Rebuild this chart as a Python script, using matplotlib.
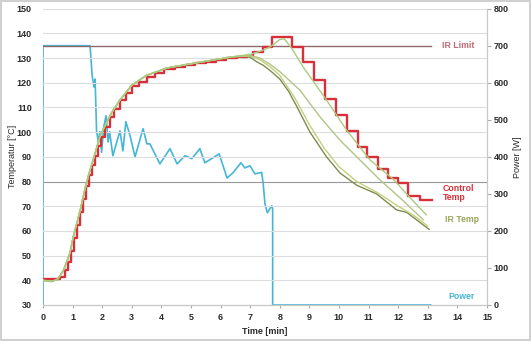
#!/usr/bin/env python3
"""Heat-up run: control temperature, IR sensor temperatures and heater power."""
import matplotlib
matplotlib.use("Agg")
import matplotlib.pyplot as plt

plt.rcParams["font.family"] = ["Liberation Sans", "DejaVu Sans"]

# limits / reference lines [degC]
ir_limit = 135
ir_limit_span = [0, 13.1]
target_line = 80

# controller set value (sampled, held between samples)
control_t = [0, 0.57, 0.74, 0.85, 0.95, 1.05, 1.15, 1.25, 1.35, 1.45, 1.55,
             1.65, 1.75, 1.85, 1.95, 2.1, 2.25, 2.4, 2.6, 2.8, 3.0, 3.25, 3.5,
             3.8, 4.1, 4.45, 4.8, 5.15, 5.5, 5.85, 6.2, 6.55, 6.9, 7.1,
             7.44, 7.73, 8.42, 8.79, 9.17, 9.53, 9.90, 10.28, 10.63, 10.96,
             11.31, 11.66, 12.0, 12.34, 12.74, 13.13]
control_T = [40.5, 41.5, 44, 47.5, 52, 57, 62.5, 67.5, 73, 78, 82.5,
             86.5, 90.5, 94.5, 98, 102, 106, 109.5, 113, 116, 118.5, 120.5,
             122.5, 124, 125.5, 126.5, 127.3, 128, 128.6, 129.3, 130, 130.5,
             131, 132.5, 134.5, 138.5, 134.5, 128.5, 121, 113.6, 106.9, 100.4,
             94.0, 90.0, 84.9, 81.3, 79.2, 74.0, 72.5, 72.5]

# heat-up part is common to all IR sensors
rise_t = [0, 0.3, 0.5, 0.69, 0.91, 1.02, 1.14, 1.25, 1.4, 1.55, 1.7, 1.93,
          2.3, 2.6, 3.0, 3.5, 4.2, 5.3, 6.4]
rise_T = [40.0, 39.5, 40.5, 44, 51, 57.5, 63, 68, 76, 83, 89, 98.5,
          107.5, 113, 119, 123, 126, 128.3, 130.5]

ir_a_t = rise_t + [6.8, 7.0, 7.22, 7.45, 7.67, 8.0, 8.3, 8.57, 9.02, 9.58,
                   10.03, 10.6, 11.27, 11.95, 12.29, 13.05]
ir_a_T = rise_T + [130.8, 130.3, 128.5, 127, 125, 121.5, 116.5, 110.5, 100,
                   90, 83.5, 78.5, 75, 68.5, 67.5, 60.6]

ir_b_t = rise_t + [7.0, 7.3, 7.67, 8.0, 8.5, 9.0, 9.5, 10.0, 10.6, 11.3,
                   12.0, 12.5, 13.0]
ir_b_T = rise_T + [130.8, 129.5, 126.5, 123, 114, 103, 93.5, 86, 80, 75.5,
                   70, 66.5, 62]

ir_c_t = rise_t + [7.0, 7.33, 7.67, 8.0, 8.68, 9.36, 10.03, 10.71, 11.39,
                   12.1, 12.85]
ir_c_T = rise_T + [131, 130, 127.5, 124.5, 117, 106.2, 96.8, 88.7, 80.6,
                   73, 64.5]

ir_d_t = rise_t + [7.0, 7.4, 7.67, 8.0, 8.15, 8.4, 8.79, 9.58, 10.26,
                   11.05, 11.83, 12.4, 12.95]
ir_d_T = rise_T + [131.5, 133, 134.5, 137.5, 137.8, 134, 126.4, 113, 100.8,
                   88.7, 81, 73.5, 66.5]

# heater power [W]
power_t = [0, 0, 1.59, 1.66, 1.70, 1.73, 1.76, 1.81, 1.87, 1.92, 1.98, 2.05,
           2.13, 2.2, 2.25, 2.36, 2.60, 2.70, 2.80, 2.94, 3.11, 3.38, 3.51,
           3.61, 3.95, 4.29, 4.53, 4.80, 5.03, 5.30, 5.47, 5.74, 5.95, 6.22,
           6.42, 6.69, 6.82, 6.99, 7.16, 7.39, 7.44, 7.50, 7.58, 7.73, 7.76,
           7.76, 13.1]
power_W = [0, 700, 700, 620, 600, 588, 610, 470, 440, 468, 412, 480,
           511, 440, 468, 403, 470, 416, 495, 457, 400, 476, 435,
           435, 381, 422, 381, 403, 395, 422, 384, 397, 408, 343,
           357, 384, 370, 376, 354, 358, 327, 273, 249, 268, 259,
           0, 0]

RED = "#d7303a"
CYAN = "#45b6d6"
GRID = "#dddddd"
TICK = "#2a2a2a"


def main():
    fig = plt.figure(figsize=(5.31, 3.41), dpi=100)
    fig.patch.set_edgecolor("#d0d0d0")
    fig.patch.set_linewidth(1.5)
    ax = fig.add_axes([0.081, 0.1056, 0.836, 0.869])
    ax2 = ax.twinx()

    ax.set_xlim(0, 15)
    ax.set_ylim(30, 150)
    ax.set_xticks(range(0, 16))
    ax.set_yticks(range(30, 151, 10))
    ax2.set_ylim(0, 800)
    ax2.set_yticks(range(0, 801, 100))

    ax.grid(axis="y", color=GRID, lw=0.8)
    ax.set_axisbelow(True)
    ax.axhline(target_line, color="#9a9a9a", lw=0.8, zorder=1)

    for a in (ax, ax2):
        for s in ("top", "left"):
            a.spines[s].set_visible(False)
        a.spines["bottom"].set_color("#c8c8c8")
        a.spines["right"].set_color("#c8c8c8")
    ax.tick_params(axis="x", length=2.5, color="#aaaaaa", pad=3,
                   labelsize=6.5, labelcolor=TICK)
    ax.tick_params(axis="y", length=0, pad=8, labelsize=6.5, labelcolor=TICK)
    ax2.tick_params(axis="y", length=3, color="#aaaaaa", pad=2,
                    labelsize=6.5, labelcolor=TICK)
    for lab in ax.get_xticklabels() + ax.get_yticklabels() + ax2.get_yticklabels():
        lab.set_fontweight("bold")

    # power on the right axis, drawn first so the temperatures sit on top
    ax.set_zorder(ax2.get_zorder() + 1)
    ax.patch.set_visible(False)
    ax2.plot(power_t, power_W, color=CYAN, lw=1.2, zorder=2)

    ax.plot(ir_limit_span, [ir_limit, ir_limit], color="#8f6a6a", lw=1.0, zorder=2)
    ax.plot(control_t, control_T, drawstyle="steps-post", color=RED, lw=1.7,
            zorder=3)
    ax.plot(ir_a_t, ir_a_T, color="#7d8c4e", lw=1.0, zorder=4)
    ax.plot(ir_b_t, ir_b_T, color="#c4cf7e", lw=1.0, zorder=4)
    ax.plot(ir_c_t, ir_c_T, color="#b2c486", lw=1.0, zorder=4)
    ax.plot(ir_d_t, ir_d_T, color="#a9cc7c", lw=1.0, zorder=4)

    lab_kw = dict(fontsize=6.3, fontweight="bold", va="center", ha="left")
    ax.text(13.47, ir_limit, "IR Limit", color="#c26874", **lab_kw)
    ax.text(13.5, 75.3, "Control\nTemp", color=RED, linespacing=1.0, **lab_kw)
    ax.text(13.58, 64.8, "IR Temp", color="#9aa55e", **lab_kw)
    ax.text(13.7, 33.5, "Power", color=CYAN, **lab_kw)

    ax.set_xlabel("Time [min]", fontsize=6.5, fontweight="bold", color=TICK,
                  labelpad=4)
    ax.set_ylabel("Temperatur [°C]", fontsize=6.5, color=TICK)
    ax.yaxis.set_label_coords(-0.058, 0.5)
    ax2.set_ylabel("Power [W]", fontsize=6.5, color=TICK, labelpad=3)

    fig.savefig("out.png", dpi=100)


if __name__ == "__main__":
    main()
